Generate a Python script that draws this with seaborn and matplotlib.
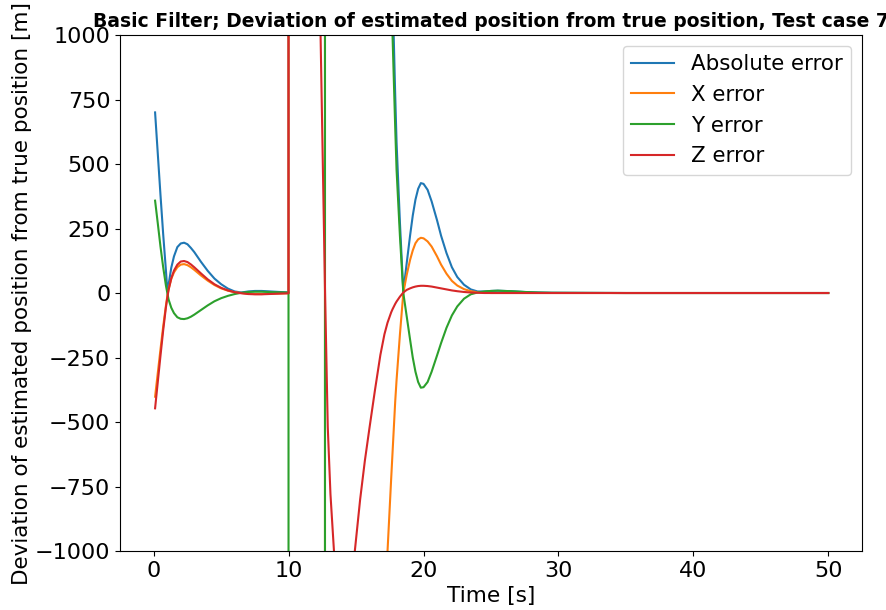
import matplotlib
matplotlib.use("Agg")
import matplotlib.pyplot as plt
import seaborn as sns
import pandas as pd

# ---- data ----
time_s = [0.1, 0.3, 0.5, 0.7, 0.9, 1.0, 1.1, 1.3, 1.5, 1.75, 2.0, 2.25, 2.5, 2.75, 3.0, 3.5, 4.0, 4.5,
          5.0, 5.5, 6.0, 6.5, 7.0, 7.5, 8.0, 9.0, 9.99,
          10.0, 10.5, 11.0, 11.5, 12.0, 12.2, 12.3, 12.4, 12.5, 12.57, 12.69, 12.7, 12.9, 13.1, 13.36,
          13.7, 14.1, 14.5, 14.9, 15.3, 15.65, 16.0, 16.4, 16.8, 17.1, 17.33, 17.6, 17.7, 17.9, 18.0, 18.25,
          18.5, 18.75, 19.0, 19.2, 19.4, 19.6, 19.8, 20.0, 20.3, 20.6, 21.0, 21.3, 21.7, 22.1, 22.5,
          23.0, 23.5, 24.0, 24.5, 25.0, 25.5, 26.5, 27.5, 28.5, 29.5, 35, 40, 45, 50]

abs_err = [700, 540, 380, 228, 90, 15, 32, 98, 142, 178, 192, 195, 189, 175, 159, 121, 86, 56,
           34, 17, 6, 2, 6, 8, 8, 5, 2,
           13500, 12000, 10500, 9000, 7800, 7400, 7200, 7000, 6900, 6800, 6700, 10000, 10300, 10400, 10300,
           10000, 9500, 8900, 8100, 7400, 6800, 6000, 4900, 3800, 2900, 2200, 1426, 1177, 766, 584, 272,
           5, 115, 222, 300, 362, 404, 426, 423, 400, 355, 282, 222, 155, 100, 62,
           32, 14, 6, 6, 8, 9, 7, 4, 2, 1, 0, 0, 0, 0]

x_err = [-402, -310, -218, -130, -50, -15, 15, 55, 80, 100, 110, 112, 108, 100, 90, 68, 48, 31,
         18, 9, 3, 0, -3, -4, -4, -2, -1,
         6000, 5800, 5500, 5200, 4800, 4600, 4500, 4400, 4300, 4250, 4200, -6400, -6400, -6300, -6100,
         -5800, -5300, -4800, -4200, -3600, -3100, -2600, -2100, -1600, -1250, -1000, -720, -620, -420, -337, -160,
         0, 70, 128, 165, 193, 208, 214, 212, 200, 180, 142, 110, 75, 47, 29,
         15, 7, 3, 1, 0, 0, 0, 0, 0, 0, 0, 0, 0, 0]

y_err = [358, 270, 180, 100, 30, 2, -25, -57, -78, -94, -100, -101, -98, -92, -84, -66, -48, -32,
         -20, -11, -4, 1, 4, 5, 5, 3, 2,
         -7000, -6800, -6500, -6200, -5800, -5600, -5500, -5400, -5300, -5250, -5200, 8200, 8300, 8300, 8200,
         8000, 7700, 7300, 6800, 6200, 5600, 4900, 4000, 3100, 2400, 1850, 1230, 1000, 640, 477, 220,
         0, -90, -180, -250, -305, -345, -367, -365, -345, -305, -242, -194, -135, -87, -52,
         -22, -5, 2, 6, 8, 9, 7, 4, 2, 1, 0, 0, 0, 0]

z_err = [-447, -345, -243, -145, -57, -20, 12, 57, 87, 110, 122, 124, 120, 111, 100, 76, 53, 34,
         20, 10, 3, -1, -4, -5, -5, -3, -1,
         8000, 6500, 5000, 3500, 2100, 1500, 1200, 900, 600, 390, 30, 0, -520, -780, -1000,
         -1180, -1250, -1170, -1003, -800, -650, -520, -376, -240, -160, -115, -75, -63, -42, -33, -14,
         2, 12, 18, 22, 25, 27, 28, 28, 27, 25, 21, 18, 14, 10, 7,
         4, 2, 1, 0, 0, 0, 0, 0, 0, 0, 0, 0, 0, 0]

series_names = ["Absolute error", "X error", "Y error", "Z error"]
series_colors = ["#1f77b4", "#ff7f0e", "#2ca02c", "#d62728"]
y_ticks = [-1000, -750, -500, -250, 0, 250, 500, 750, 1000]
x_ticks = [0, 10, 20, 30, 40, 50]

frames = []
for name, vals in zip(series_names, [abs_err, x_err, y_err, z_err]):
    frames.append(pd.DataFrame({"time": time_s, "value": vals, "series": name}))
df = pd.concat(frames, ignore_index=True)

# ---- plot ----
fig = plt.figure(figsize=(8.87, 6.10), dpi=100)
ax = fig.add_axes([0.1353, 0.0967, 0.8365, 0.8459])

sns.lineplot(data=df, x="time", y="value", hue="series", hue_order=series_names,
             palette=series_colors, estimator=None, sort=False, linewidth=1.5, ax=ax)

ax.set_xlim(-2.5, 52.5)
ax.set_ylim(-1000, 1000)
ax.set_xticks(x_ticks)
ax.set_yticks(y_ticks)
ax.tick_params(labelsize=16)
ax.set_xlabel("Time [s]", fontsize=15.6)
ax.set_ylabel("Deviation of estimated position from true position [m]", fontsize=15.5, labelpad=2)
ax.set_title("Basic Filter; Deviation of estimated position from true position, Test case 7",
             fontsize=13.5, fontweight="bold")

old = ax.get_legend()
handles = old.legend_handles
labels = [t.get_text() for t in old.get_texts()]
old.remove()
ax.legend(handles, labels, loc="upper right", fontsize=15.4)

fig.savefig("out.png", dpi=100)
